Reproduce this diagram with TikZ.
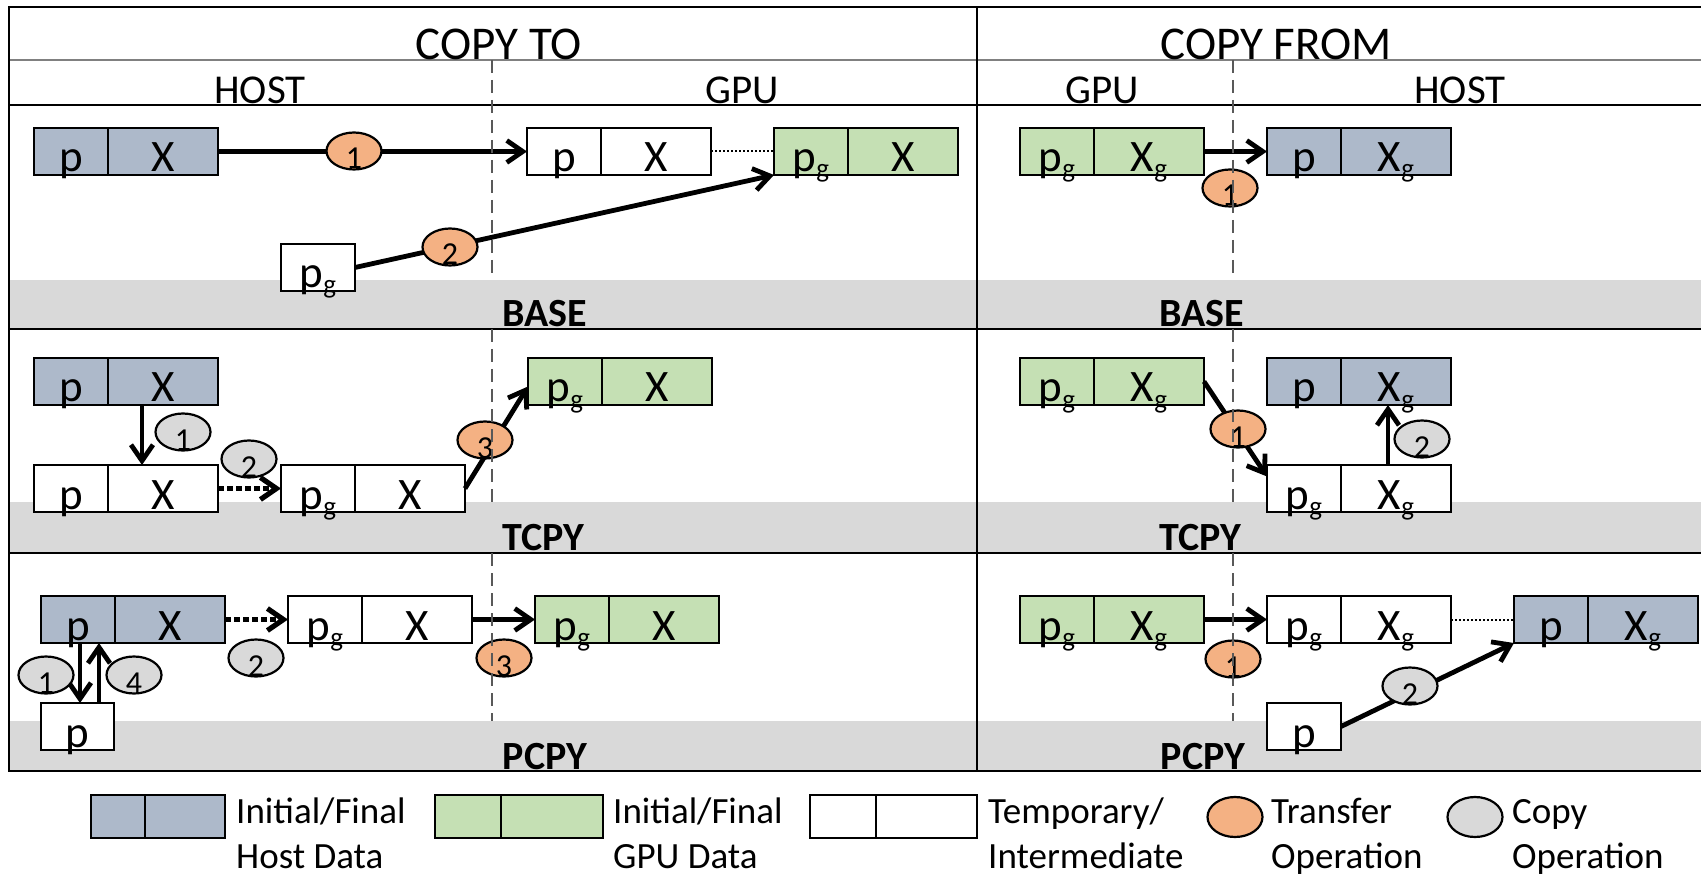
\documentclass[tikz,border=0pt]{standalone}
\usepackage{fontspec}
\setmainfont{Carlito}
\usetikzlibrary{arrows.meta,shapes.geometric}

\definecolor{hostblue}{HTML}{ADB9CA}
\definecolor{gpugreen}{HTML}{C5E0B4}
\definecolor{xferorange}{HTML}{F4B183}
\definecolor{copygray}{HTML}{D9D9D9}
\definecolor{bandgray}{HTML}{D9D9D9}
\definecolor{dashgray}{HTML}{595959}
\definecolor{rulegray}{HTML}{808080}

\newcommand\fsz[1]{\fontsize{#1}{#1}\selectfont}
% subscript g
\newcommand\sg{\raisebox{-6pt}{\fsz{27}g}}
% step number, set low inside its ellipse
\newcommand\opn[1]{\raisebox{-18pt}[0pt][0pt]{#1}}
% two-cell data record: name, left, top, fill, pointer text, data text
\newcommand\dbox[6]{%
  \node[pcell, fill=#4] (#1-p) at (#2,#3) {#5};
  \node[xcell, fill=#4] (#1-x) at (#1-p.north east) {#6};}

\tikzset{
  framelin/.style={line width=2.2pt, line cap=rect},
  dashln/.style={draw=dashgray, line width=1.8pt, dash pattern=on 13pt off 7pt},
  hdtext/.style={anchor=base, inner sep=0pt, font=\fsz{47}},
  subhd/.style={anchor=base, inner sep=0pt, font=\fsz{41}},
  rowlab/.style={anchor=base, inner sep=0pt, font=\bfseries\fsz{40}},
  cellbase/.style={draw, line width=2.6pt, inner sep=0pt, outer sep=0pt,
    minimum height=47pt, text height=44pt, text depth=3pt,
    anchor=north west, font=\fsz{45}},
  pcell/.style={cellbase, minimum width=74pt},
  xcell/.style={cellbase, minimum width=110pt},
  opbase/.style={ellipse, draw, line width=2.2pt, inner sep=0pt, outer sep=0pt,
    minimum width=55pt, minimum height=37pt, font=\fsz{32}},
  xferop/.style={opbase, fill=xferorange},
  copyop/.style={opbase, fill=copygray},
  arrowln/.style={line width=4.8pt, -{Straight Barb[length=16pt,width=22pt]}},
  dotarrow/.style={arrowln, line width=5.2pt, dash pattern=on 6pt off 3pt},
  thindot/.style={line width=2pt, dash pattern=on 2pt off 2pt},
  lgbox/.style={draw, line width=2.6pt, inner sep=0pt, outer sep=0pt,
    minimum height=43pt, anchor=north west},
  lgtext/.style={anchor=base west, inner sep=0pt, font=\fsz{37}},
}

\begin{document}
\begin{tikzpicture}[x=1pt,y=-1pt]
\useasboundingbox (0,0) rectangle (1701,877);

% shaded strips carrying the row names
\fill[bandgray] (9,280) rectangle (1701,329);
\fill[bandgray] (9,502) rectangle (1701,553);
\fill[bandgray] (9,721) rectangle (1701,771);

% table rules
\draw[framelin] (9,7) -- (1701,7);
\draw[framelin, draw=rulegray] (9,60) -- (1701,60);
\draw[framelin] (9,105) -- (1701,105);
\draw[framelin] (9,329) -- (1701,329);
\draw[framelin] (9,553) -- (1701,553);
\draw[framelin] (9,771) -- (1701,771);
\draw[framelin] (9,7) -- (9,771);
\draw[framelin] (977,7) -- (977,771);

% headings
\node[hdtext] (hTo) at (499,60) {COPY TO};
\node[hdtext] (hFrom) at (1276,60) {COPY FROM};
\node[subhd] (hHostL) at (260,104) {HOST};
\node[subhd] (hGpuL) at (742,104) {GPU};
\node[subhd] (hGpuR) at (1102,104) {GPU};
\node[subhd] (hHostR) at (1460,104) {HOST};

% row names
\node[rowlab] (rBaseL) at (545,327) {BASE};
\node[rowlab] (rBaseR) at (1202,327) {BASE};
\node[rowlab] (rTcpyL) at (543,550) {TCPY};
\node[rowlab] (rTcpyR) at (1200,550) {TCPY};
\node[rowlab] (rPcpyL) at (545,769) {PCPY};
\node[rowlab] (rPcpyR) at (1203,769) {PCPY};

% ---- BASE ----
\dbox{hA}{34}{128}{hostblue}{p}{X}
\dbox{tA}{527}{128}{white}{p}{X}
\dbox{gA}{774}{128}{gpugreen}{p\sg}{X}
\node[pcell, fill=white] (pgA) at (281,244) {p\sg};
\dbox{gB}{1020}{128}{gpugreen}{p\sg}{X\sg}
\dbox{hB}{1267}{128}{hostblue}{p}{X\sg}

% ---- TCPY ----
\dbox{hC}{34}{358}{hostblue}{p}{X}
\dbox{tC}{34}{465}{white}{p}{X}
\dbox{uC}{281}{465}{white}{p\sg}{X}
\dbox{gC}{528}{358}{gpugreen}{p\sg}{X}
\dbox{gD}{1020}{358}{gpugreen}{p\sg}{X\sg}
\dbox{hD}{1267}{358}{hostblue}{p}{X\sg}
\dbox{tD}{1267}{465}{white}{p\sg}{X\sg}

% ---- PCPY ----
\dbox{hE}{41}{596}{hostblue}{p}{X}
\dbox{tE}{288}{596}{white}{p\sg}{X}
\dbox{gE}{535}{596}{gpugreen}{p\sg}{X}
\node[pcell, fill=white, minimum width=73pt] (pE) at (41,703) {p};
\dbox{gF}{1020}{596}{gpugreen}{p\sg}{X\sg}
\dbox{tF}{1267}{596}{white}{p\sg}{X\sg}
\dbox{hF}{1514}{596}{hostblue}{p}{X\sg}
\node[pcell, fill=white] (pF) at (1267,703) {p};

% connectors
\draw[arrowln] (hA-x.east) -- (tA-p.west);
\draw[thindot] (tA-x.east) -- (gA-p.west);
\draw[arrowln] (pgA.east) -- (gA-p.south west);
\draw[arrowln] (gB-x.east) -- (hB-p.west);

\draw[arrowln] ([xshift=34pt]hC-x.south west) -- ([xshift=34pt]tC-x.north west);
\draw[dotarrow] (tC-x.east) -- (uC-p.west);
\draw[arrowln] (uC-x.east) -- ([yshift=-5pt]gC-p.west);
\draw[arrowln] (gD-x.east) -- ([yshift=12pt]tD-p.west);
\draw[arrowln] ([xshift=47pt]tD-x.north west) -- ([xshift=47pt]hD-x.south west);

\draw[arrowln] ([xshift=39pt]hE-p.south west) -- ([xshift=39pt]pE.north west);
\draw[arrowln] ([xshift=58pt]pE.north west) -- ([xshift=58pt]hE-p.south west);
\draw[dotarrow] (hE-x.east) -- (tE-p.west);
\draw[arrowln] (tE-x.east) -- (gE-p.west);
\draw[arrowln] (gF-x.east) -- (tF-p.west);
\draw[thindot] (tF-x.east) -- (hF-p.west);
\draw[arrowln] (pF.east) -- (hF-p.south west);

% numbered operations
\node[xferop] (oA1) at (354,151) {\opn{1}};
\node[xferop] (oA2) at (450,247) {\opn{2}};
\node[xferop] (oB1) at (1230,188) {\opn{1}};
\node[copyop] (oC1) at (183,432) {\opn{1}};
\node[copyop] (oC2) at (249,459) {\opn{2}};
\node[xferop] (oC3) at (485,440) {\opn{3}};
\node[xferop] (oD1) at (1238,429) {\opn{1}};
\node[copyop] (oD2) at (1422,439) {\opn{2}};
\node[copyop] (oE1) at (46,675) {\opn{1}};
\node[copyop] (oE4) at (134,675) {\opn{4}};
\node[copyop] (oE2) at (256,658) {\opn{2}};
\node[xferop] (oE3) at (504,658) {\opn{3}};
\node[xferop] (oF1) at (1233,659) {\opn{1}};
\node[copyop] (oF2) at (1410,686) {\opn{2}};

% host / GPU boundaries
\draw[dashln] (492,60) -- (492,280);
\draw[dashln] (492,329) -- (492,502);
\draw[dashln] (492,553) -- (492,721);
\draw[dashln] (1233,60) -- (1233,280);
\draw[dashln] (1233,329) -- (1233,502);
\draw[dashln] (1233,553) -- (1233,721);

% legend
\node[lgbox, fill=hostblue, minimum width=54pt] (lgH1) at (91,795) {};
\node[lgbox, fill=hostblue, minimum width=80pt] (lgH2) at (lgH1.north east) {};
\node[lgbox, fill=gpugreen, minimum width=66pt] (lgG1) at (435,795) {};
\node[lgbox, fill=gpugreen, minimum width=102pt] (lgG2) at (lgG1.north east) {};
\node[lgbox, fill=white, minimum width=66pt] (lgW1) at (810,795) {};
\node[lgbox, fill=white, minimum width=101pt] (lgW2) at (lgW1.north east) {};
\node[xferop, minimum height=40pt] (lgT) at (1235,817) {};
\node[copyop, minimum height=40pt] (lgC) at (1475,817) {};

\node[lgtext] (lt1a) at (236,823) {Initial/Final};
\node[lgtext] (lt1b) at (236,868) {Host Data};
\node[lgtext] (lt2a) at (613,823) {Initial/Final};
\node[lgtext] (lt2b) at (613,868) {GPU Data};
\node[lgtext] (lt3a) at (988,823) {Temporary/};
\node[lgtext] (lt3b) at (988,868) {Intermediate};
\node[lgtext] (lt4a) at (1271,823) {Transfer};
\node[lgtext] (lt4b) at (1271,868) {Operation};
\node[lgtext] (lt5a) at (1512,823) {Copy};
\node[lgtext] (lt5b) at (1512,868) {Operation};
\end{tikzpicture}
\end{document}
